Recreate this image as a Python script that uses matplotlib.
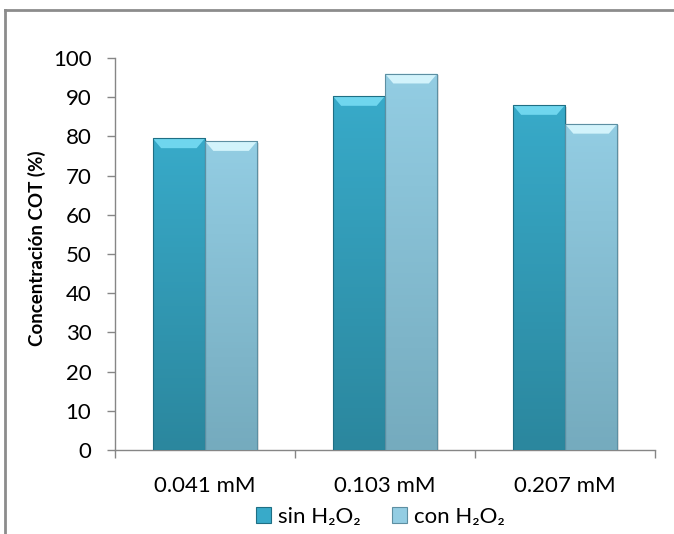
import numpy as np
import matplotlib.pyplot as plt
from matplotlib.patches import Polygon, Rectangle
from matplotlib.lines import Line2D
from matplotlib.colors import LinearSegmentedColormap

plt.rcParams['font.family'] = ['Lato', 'DejaVu Sans']

categories = ['0.041 mM', '0.103 mM', '0.207 mM']
sin_h2o2 = [79.5, 90.3, 88.0]
con_h2o2 = [78.8, 96.0, 83.2]
series_names = ['sin H\u2082O\u2082', 'con H\u2082O\u2082']

# (top colour, bottom colour, bevel colour, edge colour)
styles = [('#38aac9', '#2b879e', '#6fd6ee', '#1f6f84'),
          ('#93cde3', '#75abbe', '#d2f3fb', '#5d8fa2')]

fig = plt.figure(figsize=(6.74, 5.34), dpi=100)
ax = fig.add_axes([0.1706, 0.1573, 0.8012, 0.7341])

x = np.arange(len(categories))
width = 0.29


def fancy_bar(ax, xc, h, style):
    top, bottom, bevel, edge = style
    # soft shadow to the right
    ax.add_patch(Rectangle((xc - width / 2 + 0.012, 0), width, h - 0.4,
                           color='#000000', alpha=0.12, lw=0, zorder=1))
    bar = ax.bar(xc, h, width, color=top, lw=0, zorder=2)[0]
    cmap = LinearSegmentedColormap.from_list('g', [bottom, top])
    grad = np.linspace(0, 1, 100).reshape(-1, 1)
    im = ax.imshow(grad, cmap=cmap, aspect='auto', origin='lower',
                   extent=(xc - width / 2, xc + width / 2, 0, h), zorder=3)
    im.set_clip_path(bar)
    dx = width * 0.16
    dy = 2.5
    left, right = xc - width / 2, xc + width / 2
    ax.add_patch(Polygon([(left, h), (right, h), (right - dx, h - dy), (left + dx, h - dy)],
                         closed=True, color=bevel, lw=0, zorder=4))
    ax.add_patch(Rectangle((left, 0), width, h, fill=False, ec=edge, lw=0.8, zorder=5))


for i in range(len(categories)):
    fancy_bar(ax, x[i] - width / 2, sin_h2o2[i], styles[0])
    fancy_bar(ax, x[i] + width / 2, con_h2o2[i], styles[1])

ax.set_xlim(-0.5, len(categories) - 0.5)
ax.set_ylim(0, 100)
ax.set_yticks(np.arange(0, 101, 10))
ax.set_xticks(x)
ax.set_xticklabels(categories, fontsize=16)
ax.set_xticks(np.arange(-0.5, len(categories), 1), minor=True)
ax.tick_params(axis='x', which='major', length=0, pad=19)
ax.tick_params(axis='x', which='minor', length=6, color='#868686', width=1)
ax.tick_params(axis='y', length=6, color='#868686', width=1, labelsize=16, pad=11)
for s in ['top', 'right']:
    ax.spines[s].set_visible(False)
for s in ['left', 'bottom']:
    ax.spines[s].set_color('#868686')
    ax.spines[s].set_linewidth(1)
ax.set_ylabel('Concentración COT (%)', fontsize=13.5, fontweight='bold')
ax.yaxis.set_label_coords(-0.128, 0.515)

handles = [Rectangle((0, 0), 1, 1, fc=st[0], ec=st[3], lw=0.8) for st in styles]
fig.legend(handles, series_names, loc='center', bbox_to_anchor=(0.564, 0.032),
           ncol=2, frameon=False, fontsize=16, handlelength=0.7, handleheight=0.7,
           handletextpad=0.3, columnspacing=1.4, borderpad=0)

# outer chart frame
fig.add_artist(Line2D([0.008, 0.008], [0, 0.981], color='#8c8c8c', lw=2))
fig.add_artist(Line2D([0.008, 1], [0.981, 0.981], color='#8c8c8c', lw=2))

fig.savefig('out.png', dpi=100)
